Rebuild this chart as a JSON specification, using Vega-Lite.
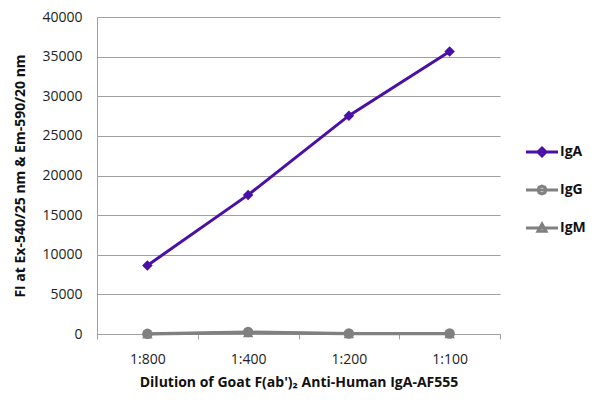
{
  "$schema": "https://vega.github.io/schema/vega-lite/v6.json",
  "width": 403,
  "height": 317,
  "autosize": {"type": "none"},
  "padding": {"left": 97, "top": 17, "right": 100, "bottom": 68},
  "background": "white",
  "config": {
    "font": "Open Sans",
    "view": {"stroke": null},
    "axis": {"labelFont": "Open Sans", "titleFont": "Open Sans", "labelFontSize": 14, "labelColor": "#222", "titleFontSize": 14, "titleFontWeight": "bold", "titleColor": "#111", "domainColor": "#a0a0a0", "gridColor": "#a0a0a0", "tickColor": "#a0a0a0", "labelOverlap": false},
    "legend": {"labelFont": "Open Sans", "labelFontSize": 14, "labelFontWeight": "bold", "labelColor": "#111"}
  },
  "data": {
    "values": [
      {"dilution": "1:800", "series": "IgA", "fi": 8650},
      {"dilution": "1:400", "series": "IgA", "fi": 17550},
      {"dilution": "1:200", "series": "IgA", "fi": 27550},
      {"dilution": "1:100", "series": "IgA", "fi": 35650},
      {"dilution": "1:800", "series": "IgG", "fi": 20},
      {"dilution": "1:400", "series": "IgG", "fi": 250},
      {"dilution": "1:200", "series": "IgG", "fi": 60},
      {"dilution": "1:100", "series": "IgG", "fi": 60},
      {"dilution": "1:800", "series": "IgM", "fi": 10},
      {"dilution": "1:400", "series": "IgM", "fi": 150},
      {"dilution": "1:200", "series": "IgM", "fi": 30},
      {"dilution": "1:100", "series": "IgM", "fi": 30}
    ]
  },
  "encoding": {
    "x": {
      "field": "dilution", "type": "ordinal", "sort": ["1:800", "1:400", "1:200", "1:100"],
      "scale": {"paddingInner": 0, "paddingOuter": 0},
      "axis": {"title": "Dilution of Goat F(ab')₂ Anti-Human IgA-AF555", "labelAngle": 0, "tickBand": "extent", "ticks": true, "tickSize": 5, "labelPadding": 13, "titlePadding": 9, "grid": false}
    },
    "y": {
      "field": "fi", "type": "quantitative",
      "scale": {"domain": [0, 40000]},
      "axis": {"title": "FI at Ex-540/25 nm & Em-590/20 nm", "values": [0,5000,10000,15000,20000,25000,30000,35000,40000], "format": "d", "ticks": false, "labelPadding": 15, "titlePadding": 14, "grid": true}
    }
  },
  "layer": [
    {
      "mark": {"type": "line", "strokeWidth": 3},
      "encoding": {
        "order": {"field": "series"},
        "color": {
          "field": "series", "type": "nominal",
          "scale": {"domain": ["IgA", "IgG", "IgM"], "range": ["#4a0fa6", "#808080", "#808080"]},
          "legend": {
            "title": null, "orient": "none", "legendX": 438, "legendY": 128,
            "rowPadding": 18, "symbolSize": 1024, "labelOffset": 11,
            "encode": {"symbols": {"update": {
              "shape": {"signal": "datum.value === 'IgA' ? 'M-4,0H4M0,-1L1,0L0,1L-1,0Z' : datum.value === 'IgG' ? 'M-4,0H4M1,0L0.71,0.71L0,1L-0.71,0.71L-1,0L-0.71,-0.71L0,-1L0.71,-0.71Z' : 'M-4,0H4M0,-1L1,0.8L-1,0.8Z'"},
              "size": {"value": 64},
              "strokeWidth": {"value": 3},
              "opacity": {"value": 1},
              "fillOpacity": {"value": 1},
              "fill": {"signal": "scale('color', datum.value)"},
              "stroke": {"signal": "scale('color', datum.value)"}
            }}}
          }
        }
      }
    },
    {
      "mark": {"type": "point", "filled": true, "size": 110, "opacity": 1},
      "encoding": {
        "color": {
          "field": "series", "type": "nominal",
          "scale": {"domain": ["IgA", "IgG", "IgM"], "range": ["#4a0fa6", "#808080", "#808080"]},
          "legend": null
        },
        "shape": {
          "field": "series", "type": "nominal",
          "scale": {"domain": ["IgA", "IgG", "IgM"], "range": ["diamond", "circle", "triangle-up"]},
          "legend": null
        }
      }
    }
  ],
  "resolve": {"scale": {"color": "independent", "shape": "independent"}, "legend": {"color": "independent", "shape": "independent"}}
}
